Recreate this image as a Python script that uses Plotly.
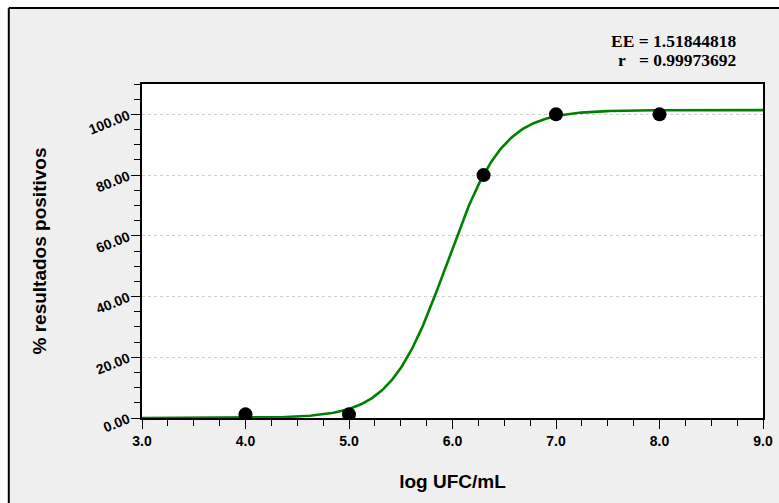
import numpy as np
import plotly.graph_objects as go

# Observed detection data
log_ufc = [4.0, 5.0, 6.3, 7.0, 8.0]
pct_positive = [1.2, 1.2, 80.0, 100.0, 100.0]

# Fitted logistic curve parameters
fit_top = 101.4
fit_mid = 5.943
fit_slope = 0.27

x_ticks = [3.0, 4.0, 5.0, 6.0, 7.0, 8.0, 9.0]
y_ticks = [0, 20, 40, 60, 80, 100]

stats_lines = ["EE = 1.51844818", "r&nbsp;&nbsp;&nbsp;= 0.99973692"]

xs = np.linspace(3.0, 9.0, 400)
ys = fit_top / (1.0 + np.exp(-(xs - fit_mid) / fit_slope))

fig = go.Figure()
fig.add_trace(go.Scatter(x=xs, y=ys, mode="lines",
                         line=dict(color="#008000", width=2.6),
                         hoverinfo="skip", showlegend=False))
fig.add_trace(go.Scatter(x=log_ufc, y=pct_positive, mode="markers",
                         marker=dict(color="black", size=14),
                         showlegend=False))

tick_font = dict(family="Arial, Liberation Sans", size=14, color="black")
title_font = dict(family="Arial, Liberation Sans", size=19, color="black")

fig.update_xaxes(range=[3.0, 9.0], tickvals=x_ticks, automargin=False,
                 ticktext=[f"<b>{v:.1f}</b>" for v in x_ticks],
                 tickfont=tick_font,
                 showline=True, linecolor="black", linewidth=1.6, mirror=True,
                 ticks="outside", ticklen=9, tickwidth=1.4, tickcolor="black",
                 minor=dict(dtick=0.25, ticks="outside", ticklen=6,
                            tickwidth=1.2, tickcolor="black", showgrid=False),
                 showgrid=False, zeroline=False,
                 title=dict(text="<b>log UFC/mL</b>", font=title_font, standoff=27))
fig.update_yaxes(range=[0, 110], tickvals=y_ticks, automargin=False,
                 ticktext=[f"<b>{v:.2f}</b>" for v in y_ticks],
                 tickfont=tick_font, tickangle=-22,
                 showline=True, linecolor="black", linewidth=1.6, mirror=True,
                 ticks="outside", ticklen=9, tickwidth=1.4, tickcolor="black",
                 minor=dict(dtick=5, ticks="outside", ticklen=6,
                            tickwidth=1.2, tickcolor="black", showgrid=False),
                 showgrid=True, gridcolor="#cfcfcf", griddash="dot", gridwidth=1,
                 zeroline=False,
                 title=dict(text="<b>% resultados positivos</b>", font=title_font,
                            standoff=35))

# Outer panel frame: white strip at top/left, black border lines
shapes = [
    dict(type="rect", xref="paper", yref="paper", x0=-0.3, x1=1.2,
         y0=1.2275, y1=1.4, fillcolor="white", line=dict(width=0)),
    dict(type="rect", xref="paper", yref="paper", x0=-0.3, x1=-0.2145,
         y0=-0.4, y1=1.4, fillcolor="white", line=dict(width=0)),
    dict(type="line", xref="paper", yref="paper", x0=-0.2145, x1=1.2,
         y0=1.2275, y1=1.2275, line=dict(color="black", width=2)),
    dict(type="line", xref="paper", yref="paper", x0=-0.2145, x1=-0.2145,
         y0=-0.4, y1=1.2275, line=dict(color="black", width=2)),
]

stats_font = dict(family="Times New Roman, Liberation Serif", size=17.5, color="black")
annotations = [
    dict(xref="paper", yref="paper", x=0.9597, y=1.1287, xanchor="right",
         yanchor="middle", showarrow=False, text=f"<b>{stats_lines[0]}</b>",
         font=stats_font),
    dict(xref="paper", yref="paper", x=0.9597, y=1.0719, xanchor="right",
         yanchor="middle", showarrow=False, text=f"<b>{stats_lines[1]}</b>",
         font=stats_font),
]

fig.update_layout(width=779, height=503,
                  margin=dict(l=142, r=16, t=84, b=85),
                  paper_bgcolor="#efefef", plot_bgcolor="white",
                  shapes=shapes, annotations=annotations,
                  showlegend=False)

fig.write_html("out.html")
